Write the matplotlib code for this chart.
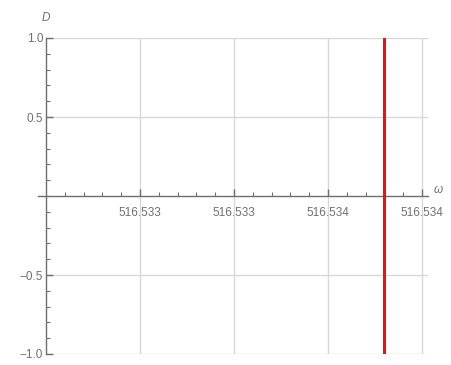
import matplotlib.pyplot as plt
from matplotlib.ticker import FixedLocator, FuncFormatter, MultipleLocator
import numpy as np

plt.rcParams['font.family'] = ['Liberation Sans', 'DejaVu Sans']

# resonance frequency where D jumps
omega_res = 516.53372
d_range = [-1.0, 1.0]

x_origin = 516.533
x_major = [516.5332, 516.5334, 516.5336, 516.5338]
y_major = [-1.0, -0.5, 0.5, 1.0]

axis_gray = '#6e6e6e'
grid_gray = '#d8d8d8'
label_gray = '#707070'

fig = plt.figure(figsize=(4.52, 3.65), dpi=100)
ax = fig.add_axes([38 / 452, 11 / 365, 390 / 452, 316 / 365])

ax.set_xlim(x_origin - 0.000017, 516.533813)
ax.set_ylim(-1.0, 1.0)

# grid lines, drawn by hand so they stop at the axis
for x in x_major:
    ax.axvline(x, color=grid_gray, lw=1.0, zorder=0)
ax.hlines(y_major, x_origin, ax.get_xlim()[1], color=grid_gray, lw=1.0, zorder=0)

# the curve itself: a vertical line at resonance
ax.plot([omega_res, omega_res], d_range, color='#f01010', lw=2.2, zorder=3)

# axes crossing like Mathematica
for s in ['top', 'right']:
    ax.spines[s].set_visible(False)
ax.spines['left'].set_position(('data', x_origin))
ax.spines['bottom'].set_position(('data', 0))
for s in ['left', 'bottom']:
    ax.spines[s].set_color(axis_gray)
    ax.spines[s].set_linewidth(1.0)

ax.xaxis.set_major_locator(FixedLocator(x_major))
ax.xaxis.set_minor_locator(FixedLocator(x_origin + np.arange(1, 20) * 0.00004))
ax.xaxis.set_major_formatter(FuncFormatter(lambda v, p: '%.3f' % v))
ax.yaxis.set_major_locator(FixedLocator(y_major))
ax.yaxis.set_minor_locator(MultipleLocator(0.1))
ax.yaxis.set_major_formatter(FuncFormatter(lambda v, p: ('%.1f' % v).replace('-', '\u2212')))

ax.tick_params(which='both', direction='in', colors=axis_gray, labelcolor=label_gray,
               labelsize=8.5)
ax.tick_params(which='major', length=5, width=1.0)
ax.tick_params(which='minor', length=3, width=0.8)
ax.tick_params(axis='x', pad=8)
ax.tick_params(axis='y', pad=2)

ax.text(x_origin, 1.09, 'D', style='italic', color=label_gray, fontsize=8.5,
        ha='center', va='bottom')
ax.annotate('\u03c9', xy=(1.0, 0), xycoords=('axes fraction', 'data'),
            xytext=(4, 0), textcoords='offset points', style='italic',
            color=label_gray, fontsize=8.5, ha='left', va='bottom')

fig.savefig('out.png', dpi=100)
